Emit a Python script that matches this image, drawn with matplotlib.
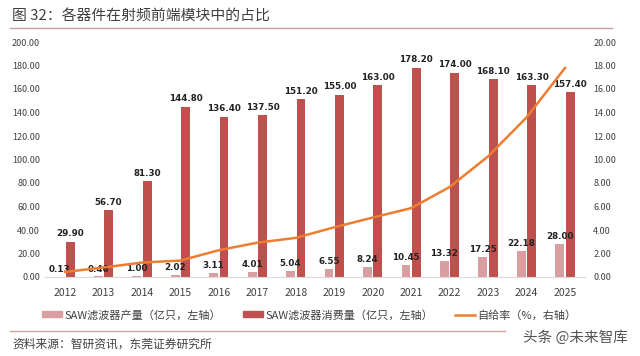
import matplotlib
matplotlib.use("Agg")
import matplotlib.pyplot as plt
from matplotlib.patches import Patch
from matplotlib.lines import Line2D
import numpy as np

plt.rcParams['font.family'] = ['Noto Sans CJK SC', 'DejaVu Sans']

years = ['2012', '2013', '2014', '2015', '2016', '2017', '2018', '2019',
         '2020', '2021', '2022', '2023', '2024', '2025']
production = [0.13, 0.46, 1.00, 2.02, 3.11, 4.01, 5.04, 6.55, 8.24, 10.45,
              13.32, 17.25, 22.18, 28.00]
consumption = [29.90, 56.70, 81.30, 144.80, 136.40, 137.50, 151.20, 155.00,
               163.00, 178.20, 174.00, 168.10, 163.30, 157.40]
self_rate = [0.43, 0.81, 1.23, 1.40, 2.28, 2.92, 3.33, 4.23, 5.06, 5.86,
             7.66, 10.26, 13.58, 17.79]
left_ticks = [0, 20, 40, 60, 80, 100, 120, 140, 160, 180, 200]
right_ticks = [0, 2, 4, 6, 8, 10, 12, 14, 16, 18, 20]

c_prod = '#d99ea2'
c_cons = '#c0504d'
c_line = '#ed7d31'
txt = '#404040'

fig = plt.figure(figsize=(6.4, 3.56), dpi=100)
ax = fig.add_axes([45/640, 1-277/356, 540/640, 235/356])
x = np.arange(len(years))
w = 0.23
off = 0.135
ax.bar(x - off, production, w, color=c_prod, zorder=2)
ax.bar(x + off, consumption, w, color=c_cons, zorder=2)
ax.set_xlim(-0.52, len(years) - 0.48)
ax.set_ylim(0, 200)
ax.set_yticks(left_ticks)
ax.set_yticklabels([f'{v:.2f}' for v in left_ticks])
ax.set_xticks(x)
ax.set_xticklabels(years)
for s in ['top', 'right', 'left']:
    ax.spines[s].set_visible(False)
ax.spines['bottom'].set_color('#d9d9d9')
ax.tick_params(axis='both', length=0, labelsize=6.5, colors=txt)
ax.tick_params(axis='x', labelsize=7.5, pad=8)

for xi, v in zip(x, production):
    ax.text(xi - off, v + 2.5, f'{v:.2f}', ha='center', va='bottom',
            fontsize=6.3, fontweight='bold', color='#222222', zorder=5,
            family='DejaVu Sans')
for xi, v in zip(x, consumption):
    ax.text(xi + off, v + 3, f'{v:.2f}', ha='center', va='bottom',
            fontsize=6.3, fontweight='bold', color='#222222', zorder=5,
            family='DejaVu Sans')

ax2 = ax.twinx()
ax2.plot(x, self_rate, color=c_line, lw=1.8, zorder=3)
ax2.set_ylim(0, 20)
ax2.set_yticks(right_ticks)
ax2.set_yticklabels([f'{v:.2f}' for v in right_ticks])
for s in ['top', 'right', 'left', 'bottom']:
    ax2.spines[s].set_visible(False)
ax2.tick_params(axis='y', length=0, labelsize=6.5, colors=txt, pad=6)

handles = [Patch(color=c_prod), Patch(color=c_cons),
           Line2D([0], [0], color=c_line, lw=1.8)]
labels = ['SAW滤波器产量（亿只，左轴）', 'SAW滤波器消费量（亿只，左轴）', '自给率（%，右轴）']
fig.legend(handles, labels, loc='center', bbox_to_anchor=(0.483, 1-315/356),
           ncol=3, frameon=False, fontsize=8, handlelength=1.8,
           handleheight=0.45, columnspacing=2.0, handletextpad=0.2,
           labelcolor=txt)

fig.text(12/640, 1-16/356, '图 32：各器件在射频前端模块中的占比', fontsize=10.7,
         color='#404040', va='center', ha='left')
fig.add_artist(Line2D([10/640, 612/640], [1-28/356, 1-28/356], color='#c9a0a0', lw=1.0))
fig.add_artist(Line2D([10/640, 505/640], [1-331/356, 1-331/356], color='#d4a0a0', lw=1.0))
fig.text(12/640, 1-344/356, '资料来源：智研资讯，东莞证券研究所', fontsize=8.5,
         color='#404040', va='center', ha='left')
fig.text(628/640, 1-338/356, '头条 @未来智库', fontsize=10.5,
         color='#555555', va='center', ha='right')

fig.savefig('out.png', dpi=100)
